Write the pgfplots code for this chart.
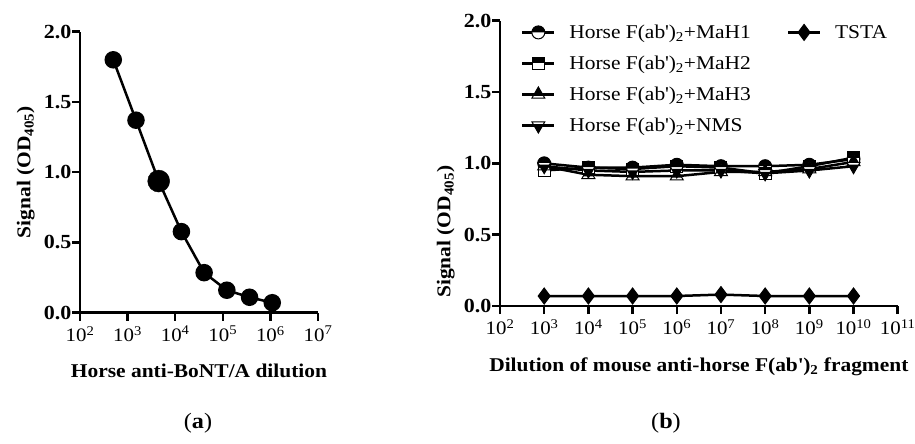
\documentclass[border=0pt]{standalone}
\usepackage{pgfplots}
\pgfplotsset{compat=1.18}
\usepackage{fontspec}
\setmainfont{Liberation Serif}[FakeStretch=1.1]
\usetikzlibrary{plotmarks}

\pgfdeclareplotmark{tophalfcircle}{%
  \pgfpathcircle{\pgfpointorigin}{\pgfplotmarksize}
  \pgfsetfillcolor{white}\pgfusepathqfill
  \pgfpathmoveto{\pgfqpoint{\pgfplotmarksize}{0pt}}
  \pgfpatharc{0}{180}{\pgfplotmarksize}
  \pgfpathclose
  \pgfsetfillcolor{black}\pgfusepathqfill
  \pgfpathcircle{\pgfpointorigin}{\pgfplotmarksize}
  \pgfusepathqstroke
}
\pgfdeclareplotmark{tophalfsquare}{%
  \pgfpathrectanglecorners{\pgfqpoint{-\pgfplotmarksize}{-\pgfplotmarksize}}{\pgfqpoint{\pgfplotmarksize}{\pgfplotmarksize}}
  \pgfsetfillcolor{white}\pgfusepathqfill
  \pgfpathrectanglecorners{\pgfqpoint{-\pgfplotmarksize}{0pt}}{\pgfqpoint{\pgfplotmarksize}{\pgfplotmarksize}}
  \pgfsetfillcolor{black}\pgfusepathqfill
  \pgfpathrectanglecorners{\pgfqpoint{-\pgfplotmarksize}{-\pgfplotmarksize}}{\pgfqpoint{\pgfplotmarksize}{\pgfplotmarksize}}
  \pgfusepathqstroke
}
\pgfdeclareplotmark{tophalftriangle}{%
  \pgfpathmoveto{\pgfqpoint{0pt}{\pgfplotmarksize}}
  \pgfpathlineto{\pgfqpointpolar{-150}{\pgfplotmarksize}}
  \pgfpathlineto{\pgfqpointpolar{-30}{\pgfplotmarksize}}
  \pgfpathclose
  \pgfsetfillcolor{white}\pgfusepathqfill
  \pgfpathmoveto{\pgfqpoint{0pt}{\pgfplotmarksize}}
  \pgfpathlineto{\pgfqpoint{-0.69\pgfplotmarksize}{-0.2\pgfplotmarksize}}
  \pgfpathlineto{\pgfqpoint{0.69\pgfplotmarksize}{-0.2\pgfplotmarksize}}
  \pgfpathclose
  \pgfsetfillcolor{black}\pgfusepathqfill
  \pgfpathmoveto{\pgfqpoint{0pt}{\pgfplotmarksize}}
  \pgfpathlineto{\pgfqpointpolar{-150}{\pgfplotmarksize}}
  \pgfpathlineto{\pgfqpointpolar{-30}{\pgfplotmarksize}}
  \pgfpathclose
  \pgfusepathqstroke
}

\begin{document}
\begin{tikzpicture}
\path[use as bounding box] (0,0) rectangle (915pt,444pt);

% ---------- panel (a)
\begin{axis}[
  scale only axis, anchor=south west,
  at={(80pt,131.3pt)}, width=238pt, height=281pt,
  xmode=log, xminorticks=false,
  axis x line*=bottom, axis y line*=left,
  axis line style={line width=2.5pt,-},
  tick style={line width=2.5pt,black},
  major tick length=8pt,
  tick align=outside,
  ymin=0,ymax=2, ytick={0,0.5,1,1.5,2},
  yticklabel style={/pgf/number format/fixed, /pgf/number format/fixed zerofill, /pgf/number format/precision=1, /pgf/number format/assume math mode=true, font=\fontsize{20}{20}\selectfont\bfseries, inner sep=0.5pt},
  xticklabel style={font=\fontsize{19}{19}\selectfont, yshift=-2pt},
  label style={font=\fontsize{19.5}{19.5}\selectfont\bfseries},
  xlabel style={yshift=-16pt},
  ylabel style={yshift=5pt},
  clip=false,
  xmin=1e2, xmax=1e7,
  xtick={1e2,1e3,1e4,1e5,1e6,1e7},
  xticklabels={10\textsuperscript{2},10\textsuperscript{3},10\textsuperscript{4},10\textsuperscript{5},10\textsuperscript{6},10\textsuperscript{7}},
  xlabel={Horse anti-BoNT/A dilution},
  ylabel={Signal (OD\textsubscript{405})},
]
\addplot[black, line width=2.5pt, mark=*, mark size=7.5pt, mark options={solid}] coordinates {
(500,1.80) (1500,1.37) (4500,0.937) (13500,0.577) (40500,0.285) (121500,0.16) (364500,0.11) (1093500,0.071)};
\addplot[black, only marks, mark=*, mark size=11pt] coordinates {(4500,0.937)};
\end{axis}

% ---------- panel (b)
\begin{axis}[
  scale only axis, anchor=south west,
  at={(500pt,138pt)}, width=397.7pt, height=285.3pt,
  xmode=log, xminorticks=false,
  axis x line*=bottom, axis y line*=left,
  axis line style={line width=2.5pt,-},
  tick style={line width=2.5pt,black},
  major tick length=8pt,
  tick align=outside,
  ymin=0,ymax=2, ytick={0,0.5,1,1.5,2},
  yticklabel style={/pgf/number format/fixed, /pgf/number format/fixed zerofill, /pgf/number format/precision=1, /pgf/number format/assume math mode=true, font=\fontsize{20}{20}\selectfont\bfseries, inner sep=0.5pt},
  xticklabel style={font=\fontsize{19}{19}\selectfont, yshift=-2pt},
  label style={font=\fontsize{19.5}{19.5}\selectfont\bfseries},
  xlabel style={yshift=-16pt},
  clip=false,
  xmin=1e2, xmax=1e11,
  xtick={1e2,1e3,1e4,1e5,1e6,1e7,1e8,1e9,1e10,1e11},
  xticklabels={10\textsuperscript{2},10\textsuperscript{3},10\textsuperscript{4},10\textsuperscript{5},10\textsuperscript{6},10\textsuperscript{7},10\textsuperscript{8},10\textsuperscript{9},10\textsuperscript{10},10\textsuperscript{11}},
  xlabel={Dilution of mouse anti-horse F(ab\textquotesingle)\textsubscript{2} fragment},
  ylabel={Signal (OD\textsubscript{405})},
  ylabel style={at={(ticklabel cs:0.26)}, yshift=5pt},
  legend columns=2,
  legend cell align=left,
  legend style={at={(0.045,1.0)}, anchor=north west, draw=none, fill=none,
    font=\fontsize{19.5}{19.5}\selectfont, row sep=12pt,
    /tikz/every even column/.append style={column sep=34pt}},
  legend image code/.code={\draw[mark repeat=2,mark phase=2] plot coordinates {(0pt,0pt)(16pt,0pt)(32pt,0pt)}; \path[draw=none] (32pt,0pt) -- (45pt,0pt);},
]
\addplot[black, line width=2.5pt, mark=tophalfcircle, mark size=6.5pt, mark options={solid, line width=1pt}] coordinates {
(1e3,1.00) (1e4,0.97) (1e5,0.97) (1e6,0.99) (1e7,0.98) (1e8,0.98) (1e9,0.99) (1e10,1.03)};
\addlegendentry{Horse F(ab\textquotesingle)\textsubscript{2}+MaH1}
\addplot[black, line width=2.5pt, mark=diamond*, mark size=8pt, mark options={solid, line width=1pt}] coordinates {
(1e3,0.07) (1e4,0.07) (1e5,0.07) (1e6,0.07) (1e7,0.08) (1e8,0.07) (1e9,0.07) (1e10,0.07)};
\addlegendentry{TSTA}
\addplot[black, line width=2.5pt, mark=tophalfsquare, mark size=6pt, mark options={solid, line width=1pt}] coordinates {
(1e3,0.95) (1e4,0.97) (1e5,0.96) (1e6,0.98) (1e7,0.97) (1e8,0.93) (1e9,0.98) (1e10,1.04)};
\addlegendentry{Horse F(ab\textquotesingle)\textsubscript{2}+MaH2}
\addlegendimage{empty legend}\addlegendentry{}
\addplot[black, line width=2.5pt, mark=tophalftriangle, mark size=7.5pt, mark options={solid, line width=1pt}] coordinates {
(1e3,0.98) (1e4,0.92) (1e5,0.91) (1e6,0.91) (1e7,0.94) (1e8,0.94) (1e9,0.96) (1e10,1.01)};
\addlegendentry{Horse F(ab\textquotesingle)\textsubscript{2}+MaH3}
\addlegendimage{empty legend}\addlegendentry{}
\addplot[black, line width=2.5pt, mark=tophalftriangle, mark size=7.5pt, mark options={solid, rotate=180, line width=1pt}] coordinates {
(1e3,0.98) (1e4,0.95) (1e5,0.94) (1e6,0.95) (1e7,0.95) (1e8,0.93) (1e9,0.95) (1e10,0.98)};
\addlegendentry{Horse F(ab\textquotesingle)\textsubscript{2}+NMS}
\end{axis}

\node[font=\fontsize{22}{22}\selectfont] at (198pt,21pt) {(\textbf{a})};
\node[font=\fontsize{22}{22}\selectfont] at (666pt,21pt) {(\textbf{b})};
\end{tikzpicture}
\end{document}
